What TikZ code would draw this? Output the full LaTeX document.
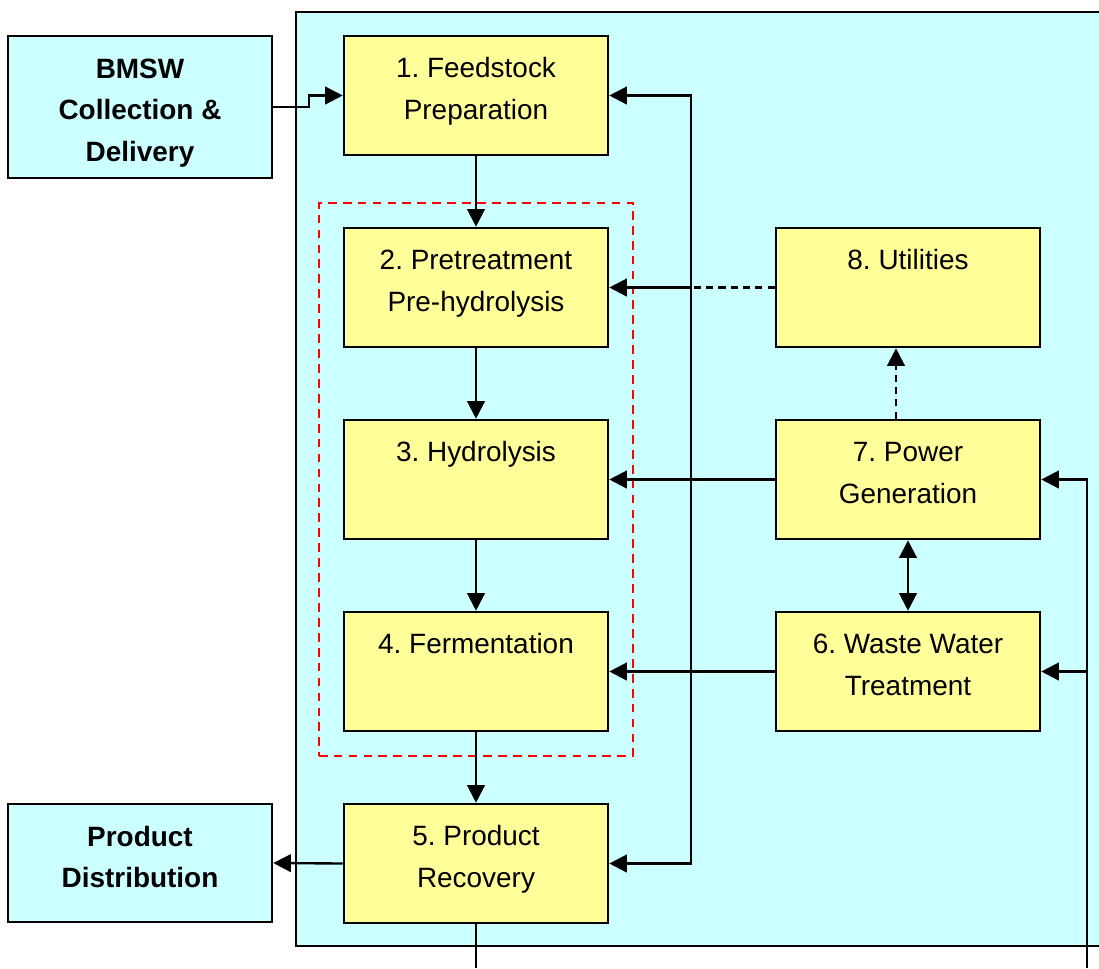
\documentclass[tikz,border=0pt]{standalone}
\usepackage{fontspec}
\setmainfont{Liberation Sans}
\usepackage{tikz}
\usetikzlibrary{arrows.meta,positioning,calc,fit}

\definecolor{areafill}{HTML}{CCFFFF}
\definecolor{unitfill}{HTML}{FFFF99}
\newcommand{\boxfont}{\frenchspacing\fontsize{15.9}{23.8}\selectfont}

\tikzset{
  unit/.style={draw, line width=1.5pt, fill=unitfill, minimum width=5.28cm,
               minimum height=2.38cm, inner sep=0pt},
  unittext/.style={anchor=north, inner sep=0pt, align=center, font=\boxfont},
  ext/.style={draw, line width=1.5pt, fill=areafill, minimum width=5.28cm,
              inner sep=0pt},
  exttext/.style={inner sep=0pt, align=center, font=\boxfont\bfseries},
  group/.style={draw=red, dash pattern=on 5pt off 3.5pt, line width=1.15pt,
                inner sep=0.48cm},
  flow/.style={line width=1.35pt, -{Triangle[length=10pt,width=10pt]}},
  link/.style={line width=1.35pt},
}

\begin{document}
\begin{tikzpicture}[x=0.02cm, y=-0.02cm]
      \useasboundingbox (0,0) rectangle (1099,968);
      \clip (0,0) rectangle (1099,968);
      % plant area
      \draw[fill=areafill, line width=1.2pt] (296,12) rectangle (1120,946);

      % outside the plant
      \node[ext, minimum height=2.84cm] (bmsw) at (140,107) {};
      \node[ext, minimum height=2.36cm] (dist) at (140,863) {};
      \node[exttext] (bmswtxt) at ($(bmsw.center)+(0,6)$) {BMSW\\Collection \&\\Delivery};
      \node[exttext] (disttxt) at ($(dist.center)+(0,-6)$) {Product\\Distribution};

      % process units
      \node[unit] (u1) at (476,95.5) {};
      \node[unit] (u2) at (476,287.5) {};
      \node[unit] (u3) at (476,479.5) {};
      \node[unit] (u4) at (476,671.5) {};
      \node[unit] (u5) at (476,863.5) {};
      \node[unit] (u8) at (908,287.5) {};
      \node[unit] (u7) at (908,479.5) {};
      \node[unit] (u6) at (908,671.5) {};

      \node[unittext] (u1txt) at ($(u1.north)+(0,13)$) {\strut 1. Feedstock\\Preparation};
      \node[unittext] (u2txt) at ($(u2.north)+(0,13)$) {\strut 2. Pretreatment\\Pre-hydrolysis};
      \node[unittext] (u3txt) at ($(u3.north)+(0,13)$) {\strut 3. Hydrolysis};
      \node[unittext] (u4txt) at ($(u4.north)+(0,13)$) {\strut 4. Fermentation};
      \node[unittext] (u5txt) at ($(u5.north)+(0,13)$) {\strut 5. Product\\Recovery};
      \node[unittext] (u8txt) at ($(u8.north)+(0,13)$) {\strut 8. Utilities};
      \node[unittext] (u7txt) at ($(u7.north)+(0,13)$) {\strut 7. Power\\Generation};
      \node[unittext] (u6txt) at ($(u6.north)+(0,13)$) {\strut 6. Waste Water\\Treatment};

      \node[group, fit=(u2)(u4)] (conv) {};

      % main line
      \draw[flow] (bmsw.east) -- ++(36,0) |- (u1.west);
      \draw[flow] (u1) -- (u2);
      \draw[flow] (u2) -- (u3);
      \draw[flow] (u3) -- (u4);
      \draw[flow] (u4) -- (u5);
      \draw[flow] (u5.west) -- (dist.east);
      \coordinate (out5) at (476,968);
      \draw[link] (u5.south) -- (out5);

      % recycle and utilities
      \coordinate (bus) at (691,287.5);
      \draw[flow] (bus) |- (u1.east);
      \draw[flow] (bus) |- (u5.east);
      \draw[flow] (bus) -- (u2.east);
      \draw[link, dash pattern=on 4pt off 3pt] (u8.west) -- (bus);
      \draw[flow, dash pattern=on 4pt off 3pt] ($(u7.north)+(-12,0)$) -- ($(u8.south)+(-12,0)$);
      \draw[flow] (u7.west) -- (u3.east);
      \draw[flow] (u6.west) -- (u4.east);
      \draw[flow, {Triangle[length=10pt,width=10pt]}-{Triangle[length=10pt,width=10pt]}] (u6.north) -- (u7.south);

      % return from outside
      \coordinate (ret) at (1087,968);
      \draw[flow] (ret) |- (u7.east);
      \draw[flow] (ret) |- (u6.east);
\end{tikzpicture}
\end{document}
